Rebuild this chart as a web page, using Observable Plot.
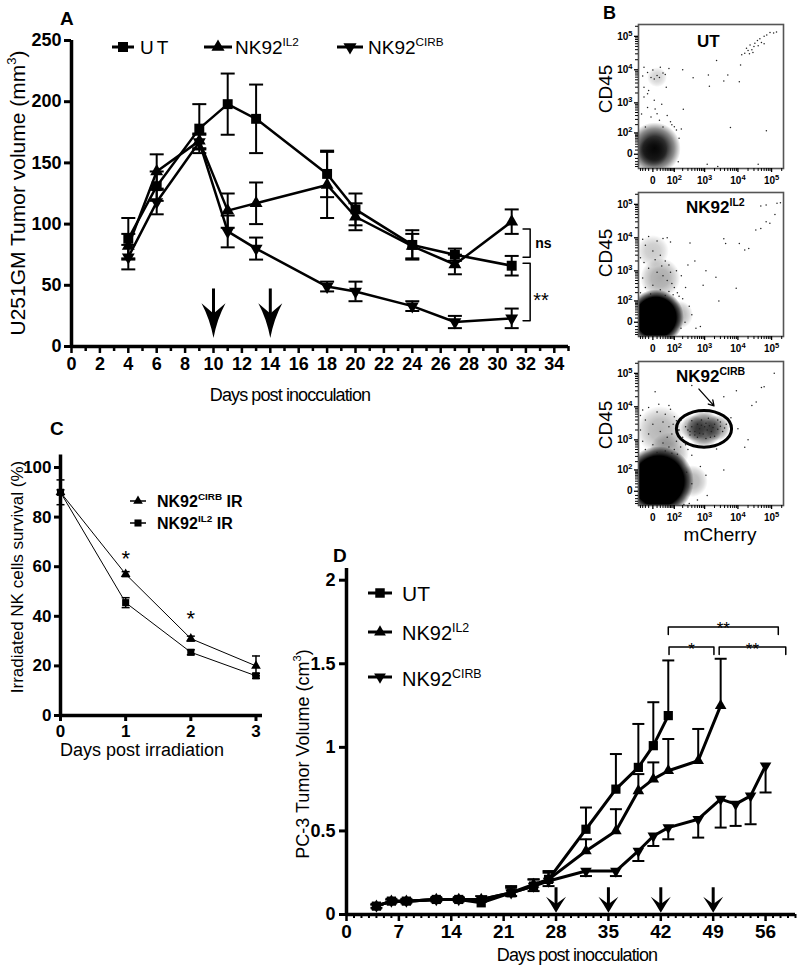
<!DOCTYPE html>
<html><head><meta charset="utf-8">
<script src="https://cdn.jsdelivr.net/npm/d3@7"></script>
<script src="https://cdn.jsdelivr.net/npm/@observablehq/plot@0.6"></script>
<style>
html,body{margin:0;padding:0;background:#fff;}
#fig{position:relative;width:800px;height:970px;overflow:hidden;background:#fff;}
#fig svg{position:absolute;}
</style></head><body><div id="fig"></div>
<script>
// ================= DATA =================
// Panel A: U251GM tumour volume (mm3)
const daysA = [4, 6, 9, 11, 13, 18, 20, 24, 27, 31];
const utA = [88, 131, 178, 198, 186, 141, 112, 83, 75, 66];
const utAerr = [17, 12, 20, 25, 28, 19, 13, 12, 5, 8];
const il2A = [82, 143, 168, 111, 117, 132, 106, 82, 67, 102];
const il2Aerr = [10, 14, 6, 14, 17, 27, 11, 10, 8, 10];
const cirbA = [73, 118, 167, 94, 80, 49, 45, 33, 20, 23];
const cirbAerr = [10, 10, 6, 13, 9, 4, 8, 4, 5, 8];
const xTicksA = [0, 2, 4, 6, 8, 10, 12, 14, 16, 18, 20, 22, 24, 26, 28, 30, 32, 34];
const xMinorA = [1, 3, 5, 7, 9, 11, 13, 15, 17, 19, 21, 23, 25, 27, 29, 31, 33, 35];
const yTicksA = [0, 50, 100, 150, 200, 250];
const arrowDaysA = [10, 14];
const arrowTopA = 47, arrowTipA = 7;
const sigDayA = 32.3;
const sigA = [{label: "ns", top: 96, bottom: 73}, {label: "**", top: 68, bottom: 21}];

// Panel B: flow cytometry (mCherry vs CD45); blobs = dense populations (g: gradient style)
const majorB = [0, 100, 1000, 10000, 100000];
const blobsUT = [{x: 4, y: 15, r: 26, o: 1, g: "soft"}, {x: 0, y: 5, r: 15, o: 0.6, g: "soft"}, {x: 10, y: 6000, r: 10, o: 0.18, g: "soft"}];
const eventsUT = [[18000,44000],[20000,38000],[23000,55000],[26000,40000],[30000,50000],[32000,62000],[38000,75000],[40000,52000],[45000,85000],[50000,65000],[60000,100000],[72000,110000],[90000,130000],[115000,125000],[140000,135000],[28000,33000],[13000,28000],[16000,31000],[22000,30000],[60000,60000],[12000,14000],[200,10000],[440,5800],[1300,7000],[2300,19000],[3800,4600],[1400,3200],[5000,7000],[11000,4400],[210,630],[180,140],[6000,160],[70000,120],[1200,-30],[2500,-40],[40000,-30],[-25,11800],[-13,8300],[-4,5900],[3,5300],[10,6700],[17,5900],[30,8000],[-25,3000],[-13,1900],[-25,1500],[3,1200],[-13,720],[10,460],[-4,360],[17,280],[-20,165],[30,165],[45,3000],[60,11000],[-30,6500],[0,9800],[20,12000],[40,7200],[-10,2400],[25,900],[50,400],[70,250],[80,200],[100,170],[120,130],[150,60],[140,-20],[-35,450],[5,650]];
const blobsIL2 = [{x: 7, y: 12, r: 28, o: 1, g: "solid"}, {x: 20, y: 600, r: 20, o: 0.35, g: "soft"}, {x: 0, y: 4000, r: 16, o: 0.22, g: "soft"}, {x: 150, y: 20, r: 14, o: 0.3, g: "soft"}];
const eventsIL2 = [[34000,17000],[48000,19000],[69000,30000],[89000,27000],[126000,50000],[145000,107000],[183000,112000],[48000,89000],[69000,95000],[21000,4800],[16000,4300],[3800,9300],[4300,6700],[11000,6700],[2200,630],[8900,280],[2700,100],[900,350],[1100,1000],[330,60],[400,20],[540,-15],[740,-10],[240,0],[175,-15],[-30,9000],[-10,11000],[10,8000],[30,9500],[50,10000],[70,7500],[-20,6000],[0,4000],[20,3000],[-40,2500],[40,2000],[60,1500],[-10,1200],[10,900],[30,700],[-30,600],[50,500],[80,400],[0,350],[-20,300],[20,250],[100,300],[130,200],[60,220],[-40,200],[150,150],[40,160],[-5,180],[90,170],[200,120],[250,300],[300,1500],[500,2000],[120,1000],[180,700],[350,7000],[-25,1800],[5,2200],[25,1400],[70,900]];
const blobsCIRB = [{x: 15, y: 30, r: 35, o: 1, g: "solid"}, {x: 20, y: 2000, r: 24, o: 0.3, g: "soft"}, {x: 60, y: 400, r: 20, o: 0.35, g: "soft"}, {x: 400, y: 30, r: 16, o: 0.3, g: "soft"},
  {x: 960, y: 2150, r: 18, o: 0.75, g: "soft"}, {x: 450, y: 2300, r: 13, o: 0.45, g: "soft"}, {x: 2400, y: 2300, r: 13, o: 0.45, g: "soft"}];
const eventsCIRB = [[120000,100000],[60000,40000],[35000,14000],[20000,1000],[9000,30000],[3800,20000],[400,43000],[5,28000],[50000,38000],[26000,11000],[6200,4700],[10000,2200],[145,2000],[120,3800],[2300,520],[400,330],[740,135],[1100,60],[3800,100],[270,80],[400,20],[600,-25],[330,-40],[220,-45],[1200,-10],[16000,590],[-30,8000],[-10,9500],[10,7000],[40,6000],[70,8500],[100,5000],[-20,4000],[0,3000],[30,3500],[60,2500],[90,3000],[150,2000],[-40,2000],[-10,1500],[20,1800],[50,1200],[80,1500],[120,900],[200,1200],[-30,900],[0,700],[30,800],[60,600],[100,500],[170,600],[250,700],[-20,500],[10,400],[40,450],[80,380],[130,350],[300,500],[-40,5500],[15,12000],[60,11000],[180,4000],[250,2500],[350,1800],[500,1400],[700,600],
  [300,2000],[400,2500],[500,1800],[600,3000],[700,2200],[800,2800],[900,1500],[1000,2500],[1100,3200],[1200,2000],[1400,2700],[1600,1800],[1800,2400],[2000,3000],[2500,2100],[3000,2600],[3500,1800],[4000,2300],[600,1200],[1500,1200],[800,4000],[1300,4500],[2500,4000],[400,3800],[2000,1300],[700,1600],[1100,1100],[3000,3500],[350,1400],[4500,3000]];
const gateCIRB = {x1: 125, x2: 6700, y1: 570, y2: 7500};
const arrowCIRB = {x1: 670, y1: 33900, x2: 1930, y2: 10600};

// Panel C: irradiated NK cell survival (%)
const daysC = [0, 1, 2, 3];
const cirbC = [90, 57, 31, 20];
const cirbCerr = [5, 1, 1, 4];
const il2C = [90, 45.5, 25.5, 16];
const il2Cerr = [1, 2, 1, 1];
const xTicksC = [0, 1, 2, 3];
const yTicksC = [0, 20, 40, 60, 80, 100];
const sigC = [{day: 1, y: 65, label: "*"}, {day: 2, y: 41, label: "*"}];

// Panel D: PC-3 tumour volume (cm3)
const daysD = [4, 6, 8, 12, 15, 18, 22, 25, 27, 32, 36, 39, 41, 43, 47, 50, 52, 54, 56];
const utD = [0.05, 0.08, 0.08, 0.09, 0.09, 0.07, 0.13, 0.17, 0.21, 0.51, 0.75, 0.88, 1.01, 1.19];
const utDerr = [0.01, 0.01, 0.01, 0.01, 0.01, 0.01, 0.04, 0.04, 0.05, 0.13, 0.21, 0.26, 0.26, 0.33];
const il2D = [0.05, 0.08, 0.08, 0.09, 0.09, 0.09, 0.13, 0.18, 0.21, 0.38, 0.50, 0.74, 0.81, 0.86, 0.92, 1.25];
const il2Derr = [0.01, 0.01, 0.01, 0.01, 0.01, 0.02, 0.03, 0.03, 0.04, 0.07, 0.13, 0.10, 0.10, 0.19, 0.19, 0.28];
const cirbD = [0.05, 0.08, 0.08, 0.09, 0.09, 0.09, 0.13, 0.17, 0.20, 0.26, 0.26, 0.38, 0.47, 0.52, 0.57, 0.69, 0.66, 0.71, 0.89];
const cirbDerr = [0.01, 0.01, 0.01, 0.01, 0.01, 0.01, 0.02, 0.03, 0.03, 0.03, 0.03, 0.06, 0.06, 0.07, 0.11, 0.17, 0.13, 0.17, 0.16];
const xTicksD = [0, 7, 14, 21, 28, 35, 42, 49, 56];
const yTicksD = [0, 0.5, 1, 1.5, 2];
const arrowDaysD = [28, 35, 42, 49];
const arrowTopD = 0.16, arrowTipD = 0.01;
const sigD = [{x1: 43, x2: 57.7, y: 1.72, label: "**"}, {x1: 43.1, x2: 49.1, y: 1.60, label: "*"}, {x1: 49.8, x2: 58.7, y: 1.60, label: "**"}];

// ================= HELPERS =================
const FONT = "'Liberation Sans', Arial, Helvetica, sans-serif";
const fig = document.getElementById("fig");
function put(svg, left, top) { svg.style.position = "absolute"; svg.style.left = left + "px"; svg.style.top = top + "px"; fig.appendChild(svg); }
// shared gradients for dense flow populations
(() => {
  const s = d3.create("svg").attr("width", 0).attr("height", 0);
  const defs = s.append("defs");
  const mk = (id, stops) => { const g = defs.append("radialGradient").attr("id", id);
    stops.forEach(([o, a]) => g.append("stop").attr("offset", o).attr("stop-color", "black").attr("stop-opacity", a)); };
  mk("soft", [["0%", 0.95], ["45%", 0.82], ["75%", 0.45], ["100%", 0]]);
  mk("solid", [["0%", 1], ["72%", 1], ["86%", 0.6], ["100%", 0]]);
  put(s.node(), 0, 0);
})();
const baseStyle = {fontFamily: FONT, fontSize: "18px", fontWeight: "bold", background: "transparent", overflow: "visible", color: "black"};
const capSym = {draw(ctx, size) { const r = Math.sqrt(size / Math.PI); ctx.moveTo(-r, 0); ctx.lineTo(r, 0); }};
function headSym(lenRatio, notchRatio, curve) {
  return {draw(ctx, size) {
    const w = Math.sqrt(size / Math.PI), L = w * lenRatio;
    ctx.moveTo(0, 0); ctx.quadraticCurveTo(-w * curve, -L * 0.55, -w, -L); ctx.lineTo(0, -L * notchRatio);
    ctx.lineTo(w, -L); ctx.quadraticCurveTo(w * curve, -L * 0.55, 0, 0); ctx.closePath();
  }};
}
const noText = () => "";
function rows(days, series) {
  const out = [];
  for (const [s, vals, errs] of series) vals.forEach((v, i) => out.push({series: s, day: days[i], value: v, err: errs[i]}));
  return out;
}
function supTicks(svg) {
  d3.select(svg).selectAll("text").each(function() {
    const t = this.textContent; if (!t.includes("^")) return;
    const [b, e] = t.split("^"); const sel = d3.select(this); sel.text(null);
    sel.append("tspan").text(b); sel.append("tspan").text(e).attr("dy", "-0.5em").attr("font-size", "75%");
  });
}

// ================= PANEL A =================
const rowsA = rows(daysA, [["UT", utA, utAerr], ["IL2", il2A, il2Aerr], ["CIRB", cirbA, cirbAerr]]);
const bracketA = sigA.flatMap((s, i) => [
  {k: i, x: sigDayA - 0.5, y: s.top}, {k: i, x: sigDayA, y: s.top}, {k: i, x: sigDayA, y: s.bottom}, {k: i, x: sigDayA - 0.5, y: s.bottom}]);
const plotA = Plot.plot({
  width: 600, height: 400, marginLeft: 71, marginRight: 32, marginTop: 40, marginBottom: 54,
  x: {domain: [0, 35]}, y: {domain: [0, 250]},
  style: baseStyle,
  marks: [
    Plot.axisX(xMinorA, {tickSize: 5, strokeWidth: 2.5, tickFormat: noText, label: null}),
    Plot.axisX(xTicksA, {tickSize: 7, strokeWidth: 2.5, tickPadding: 4, fontSize: 18, tickFormat: d => String(d), label: null}),
    Plot.axisY(yTicksA, {tickSize: 7, strokeWidth: 3, tickPadding: 3, fontSize: 18, tickFormat: d => String(d), label: null}),
    Plot.ruleY([0], {strokeWidth: 3.5}),
    Plot.ruleX([0], {strokeWidth: 3.5}),
    Plot.ruleX(rowsA, {x: "day", y1: d => d.value - d.err, y2: d => d.value + d.err, strokeWidth: 2}),
    Plot.dot(rowsA, {x: "day", y: d => d.value + d.err, symbol: capSym, r: 7, stroke: "black", fill: "none", strokeWidth: 2}),
    Plot.dot(rowsA, {x: "day", y: d => d.value - d.err, symbol: capSym, r: 7, stroke: "black", fill: "none", strokeWidth: 2}),
    Plot.line(rowsA, {x: "day", y: "value", z: "series", stroke: "black", strokeWidth: 2.5}),
    Plot.dot(rowsA.filter(d => d.series === "UT"), {x: "day", y: "value", symbol: "square", r: 5.6, fill: "black"}),
    Plot.dot(rowsA.filter(d => d.series === "IL2"), {x: "day", y: "value", symbol: "triangle", r: 4.8, fill: "black"}),
    Plot.dot(rowsA.filter(d => d.series === "CIRB"), {x: "day", y: "value", symbol: "triangle", rotate: 180, r: 4.8, fill: "black"}),
    Plot.ruleX(arrowDaysA, {x: d => d, y1: arrowTopA, y2: arrowTipA + 12, strokeWidth: 3}),
    Plot.dot(arrowDaysA, {x: d => d, y: arrowTipA, symbol: headSym(2.9, 0.7, 0.3), r: 12, fill: "black", stroke: "none"}),
    Plot.line(bracketA, {x: "x", y: "y", z: "k", stroke: "black", strokeWidth: 1.5}),
    Plot.text(sigA.filter(d => d.label === "ns"), {x: d => sigDayA, y: d => (d.top + d.bottom) / 2, text: "label", textAnchor: "start", dx: 5, fontSize: 14}),
    Plot.text(sigA.filter(d => d.label !== "ns"), {x: d => sigDayA, y: d => (d.top + d.bottom) / 2, text: "label", textAnchor: "start", dx: 3, dy: 9, fontSize: 20, fontWeight: "normal"})
  ]
});
put(plotA, 0, 0);

// ================= PANEL B =================
function minorLog() {
  const m = [-40, -30, -20, -10, 10, 20, 30, 40, 50, 60, 70, 80, 90];
  for (const base of [100, 1000, 10000]) for (let k = 2; k <= 9; k++) m.push(k * base);
  m.push(200000);
  return m;
}
const minorB = minorLog();
const fmtB = d => d === 0 ? "0" : "10^" + Math.round(Math.log10(d));
function flow(events, blobs, extra) {
  const svg = Plot.plot({
    width: 210, height: 190, marginLeft: 48, marginRight: 17, marginTop: 24, marginBottom: 22,
    x: {type: "symlog", constant: 30, domain: [-50, 226000]},
    y: {type: "symlog", constant: 30, domain: [-50, 226000]},
    r: {type: "identity"}, opacity: {type: "identity"},
    style: {...baseStyle, fontSize: "10px"},
    marks: [
      Plot.dot(blobs.filter(b => b.g === "soft"), {x: "x", y: "y", r: "r", fill: "url(#soft)", fillOpacity: "o", clip: true, sort: null}),
      Plot.dot(blobs.filter(b => b.g === "solid"), {x: "x", y: "y", r: "r", fill: "url(#solid)", fillOpacity: "o", clip: true}),
      Plot.dot(events, {x: d => d[0], y: d => d[1], r: 0.75, fill: "#222", clip: true}),
      ...extra,
      Plot.frame({stroke: "#555", strokeWidth: 1.6}),
      Plot.axisX(minorB, {tickSize: 3, strokeWidth: 1, tickFormat: noText, label: null}),
      Plot.axisX(majorB, {tickSize: 4, strokeWidth: 1.3, tickPadding: 4, fontSize: 10, tickFormat: fmtB, label: null}),
      Plot.axisY(minorB, {tickSize: 3, strokeWidth: 1, tickFormat: noText, label: null}),
      Plot.axisY(majorB, {tickSize: 4, strokeWidth: 1.3, tickPadding: 2, fontSize: 10, tickFormat: fmtB, label: null})
    ]
  });
  supTicks(svg);
  return svg;
}
const gateMark = (index, scales) => {
  const g = gateCIRB;
  const x1 = scales.x(g.x1), x2 = scales.x(g.x2), y1 = scales.y(g.y1), y2 = scales.y(g.y2);
  return d3.create("svg:ellipse").attr("cx", (x1 + x2) / 2).attr("cy", (y1 + y2) / 2)
    .attr("rx", Math.abs(x2 - x1) / 2).attr("ry", Math.abs(y2 - y1) / 2)
    .attr("fill", "none").attr("stroke", "black").attr("stroke-width", 3).node();
};
put(flow(eventsUT, blobsUT, []), 590, 0);
put(flow(eventsIL2, blobsIL2, []), 590, 168);
put(flow(eventsCIRB, blobsCIRB, [gateMark, Plot.arrow([arrowCIRB], {x1: "x1", y1: "y1", x2: "x2", y2: "y2", stroke: "black", strokeWidth: 1.3, headLength: 7})]), 590, 337);

// ================= PANEL C =================
const rowsC = rows(daysC, [["CIRB", cirbC, cirbCerr], ["IL2", il2C, il2Cerr]]);
const plotC = Plot.plot({
  width: 300, height: 330, marginLeft: 60, marginRight: 38, marginTop: 14.6, marginBottom: 55,
  x: {domain: [0, 3.1]}, y: {domain: [0, 105]},
  style: baseStyle,
  marks: [
    Plot.axisX(xTicksC, {tickSize: 6, strokeWidth: 3, tickPadding: 3, fontSize: 17, tickFormat: d => String(d), label: null}),
    Plot.axisY(yTicksC, {tickSize: 6, strokeWidth: 3, tickPadding: 3, fontSize: 17, tickFormat: d => String(d), label: null}),
    Plot.ruleY([0], {strokeWidth: 3.5}),
    Plot.ruleX([0], {strokeWidth: 3.5}),
    Plot.ruleX(rowsC, {x: "day", y1: d => d.value - d.err, y2: d => d.value + d.err, strokeWidth: 1.5}),
    Plot.dot(rowsC, {x: "day", y: d => d.value + d.err, symbol: capSym, r: 4, stroke: "black", fill: "none", strokeWidth: 1.5}),
    Plot.dot(rowsC, {x: "day", y: d => d.value - d.err, symbol: capSym, r: 4, stroke: "black", fill: "none", strokeWidth: 1.5}),
    Plot.line(rowsC, {x: "day", y: "value", z: "series", stroke: "black", strokeWidth: 1}),
    Plot.dot(rowsC.filter(d => d.series === "IL2"), {x: "day", y: "value", symbol: "square", r: 4, fill: "black"}),
    Plot.dot(rowsC.filter(d => d.series === "CIRB"), {x: "day", y: "value", symbol: "triangle", r: 3.6, fill: "black"}),
    Plot.text(sigC, {x: "day", y: "y", text: "label", fontSize: 22, fontWeight: "normal", dy: 5})
  ]
});
put(plotC, 0, 440);

// ================= PANEL D =================
const rowsD = [
  ...utD.map((v, i) => ({series: "UT", day: daysD[i], value: v, lo: v, hi: v + utDerr[i]})),
  ...il2D.map((v, i) => ({series: "IL2", day: daysD[i], value: v, lo: v, hi: v + il2Derr[i]})),
  ...cirbD.map((v, i) => ({series: "CIRB", day: daysD[i], value: v, lo: v - cirbDerr[i], hi: v}))
];
const capRowsD = rowsD.map(d => ({day: d.day, y: d.series === "CIRB" ? d.lo : d.hi}));
const xMinorD = d3.range(1, 61).filter(d => d % 7 !== 0);
const bracketD = sigD.flatMap((s, i) => [
  {k: i, x: s.x1, y: s.y - 0.045}, {k: i, x: s.x1, y: s.y}, {k: i, x: s.x2, y: s.y}, {k: i, x: s.x2, y: s.y - 0.045}]);
const plotD = Plot.plot({
  width: 510, height: 430, marginLeft: 56, marginRight: 5, marginTop: 28, marginBottom: 56,
  x: {domain: [0, 60]}, y: {domain: [0, 2.07]},
  style: baseStyle,
  marks: [
    Plot.axisX(xMinorD, {tickSize: 4, strokeWidth: 2, tickFormat: noText, label: null}),
    Plot.axisX(xTicksD, {tickSize: 7, strokeWidth: 2.5, tickPadding: 3, fontSize: 19, tickFormat: d => String(d), label: null}),
    Plot.axisY(yTicksD, {tickSize: 7, strokeWidth: 3, tickPadding: 4, fontSize: 18, tickFormat: d => String(d), label: null}),
    Plot.ruleY([0], {strokeWidth: 3.5}),
    Plot.ruleX([0], {strokeWidth: 3.5}),
    Plot.ruleX(rowsD, {x: "day", y1: "lo", y2: "hi", strokeWidth: 2}),
    Plot.dot(capRowsD, {x: "day", y: "y", symbol: capSym, r: 6, stroke: "black", fill: "none", strokeWidth: 2}),
    Plot.line(rowsD, {x: "day", y: "value", z: "series", stroke: "black", strokeWidth: 3}),
    Plot.dot(rowsD.filter(d => d.series === "UT"), {x: "day", y: "value", symbol: "square", r: 5.2, fill: "black"}),
    Plot.dot(rowsD.filter(d => d.series === "IL2"), {x: "day", y: "value", symbol: "triangle", r: 4.3, fill: "black"}),
    Plot.dot(rowsD.filter(d => d.series === "CIRB"), {x: "day", y: "value", symbol: "triangle", rotate: 180, r: 4.3, fill: "black"}),
    Plot.ruleX(arrowDaysD, {x: d => d, y1: arrowTopD, y2: arrowTipD + 0.04, strokeWidth: 3}),
    Plot.dot(arrowDaysD, {x: d => d, y: arrowTipD, symbol: headSym(1.6, 0.55, 0.5), r: 10, fill: "black", stroke: "none"}),
    Plot.line(bracketD, {x: "x", y: "y", z: "k", stroke: "black", strokeWidth: 1.5}),
    Plot.text(sigD, {x: d => (d.x1 + d.x2) / 2, y: "y", text: "label", fontSize: 17, fontWeight: "normal", dy: 2})
  ]
});
put(plotD, 290, 540);

// ================= OVERLAY TEXT / LEGENDS =================
const ov = d3.create("svg").attr("width", 800).attr("height", 970).style("font-family", FONT);
put(ov.node(), 0, 0);
function label(x, y, parts, {size = 17, weight = "normal", anchor = "start", rotate = 0, ls = 0} = {}) {
  const t = ov.append("text").attr("transform", `translate(${x},${y}) rotate(${rotate})`)
    .attr("font-size", size).attr("font-weight", weight).attr("text-anchor", anchor).attr("letter-spacing", ls).attr("fill", "black");
  let shifted = false;
  for (const p of parts) {
    if (typeof p === "string") { const s = t.append("tspan").text(p); if (shifted) { s.attr("dy", size * 0.42); shifted = false; } }
    else { t.append("tspan").text(p.sup).attr("font-size", size * 0.62).attr("dy", -size * 0.42); shifted = true; }
  }
}
function legendSym(x1, x2, cy, sym, area, rot, sw) {
  ov.append("line").attr("x1", x1).attr("x2", x2).attr("y1", cy).attr("y2", cy).attr("stroke", "black").attr("stroke-width", sw);
  ov.append("path").attr("d", d3.symbol(sym, area)()).attr("transform", `translate(${(x1 + x2) / 2},${cy}) rotate(${rot})`).attr("fill", "black");
}
// panel letters
label(60, 25, ["A"], {size: 19, weight: "bold"});
label(603, 19, ["B"], {size: 18, weight: "bold"});
label(50, 435, ["C"], {size: 19, weight: "bold"});
label(333, 562, ["D"], {size: 19, weight: "bold"});
// A legend + axis titles
legendSym(112, 134, 47, d3.symbolSquare, 100, 0, 3);
label(140, 54, ["UT"], {size: 19, ls: 3});
legendSym(204, 232, 47, d3.symbolTriangle, 75, 0, 3);
label(235, 54, ["NK92", {sup: "IL2"}], {size: 19});
legendSym(337, 363, 47, d3.symbolTriangle, 75, 180, 3);
label(368, 54, ["NK92", {sup: "CIRB"}], {size: 19});
label(25, 193, ["U251GM Tumor volume (mm", {sup: "3"}, ")"], {size: 21, anchor: "middle", rotate: -90});
label(290, 401, ["Days post inocculation"], {size: 18, anchor: "middle", ls: -0.9});
// B labels
label(697, 47, ["UT"], {size: 17, weight: "bold"});
label(686, 213, ["NK92", {sup: "IL2"}], {size: 17, weight: "bold"});
label(676, 382, ["NK92", {sup: "CIRB"}], {size: 17, weight: "bold"});
label(612, 89, ["CD45"], {size: 19, anchor: "middle", rotate: -90});
label(612, 253, ["CD45"], {size: 19, anchor: "middle", rotate: -90});
label(612, 425, ["CD45"], {size: 19, anchor: "middle", rotate: -90});
label(720, 541, ["mCherry"], {size: 19, anchor: "middle"});
// C legend + titles
legendSym(130, 146, 501, d3.symbolTriangle, 40, 0, 1.5);
label(157, 507, ["NK92", {sup: "CIRB"}, " IR"], {size: 16, weight: "bold"});
legendSym(130, 146, 523, d3.symbolSquare, 50, 0, 1.5);
label(157, 529, ["NK92", {sup: "IL2"}, " IR"], {size: 16, weight: "bold"});
label(23, 577, ["Irradiated NK cells survival (%)"], {size: 17, anchor: "middle", rotate: -90});
label(142, 756, ["Days post irradiation"], {size: 18, anchor: "middle"});
// D legend + titles
legendSym(368, 392, 593, d3.symbolSquare, 90, 0, 3);
label(402, 601, ["UT"], {size: 21});
legendSym(368, 392, 632, d3.symbolTriangle, 60, 0, 3);
label(402, 640, ["NK92", {sup: "IL2"}], {size: 20});
legendSym(368, 392, 677, d3.symbolTriangle, 60, 180, 3);
label(402, 686, ["NK92", {sup: "CIRB"}], {size: 20});
label(309, 754, ["PC-3 Tumor Volume (cm", {sup: "3"}, ")"], {size: 18, anchor: "middle", rotate: -90});
label(577, 961, ["Days post inocculation"], {size: 18, anchor: "middle", ls: -0.9});
</script></body></html>
